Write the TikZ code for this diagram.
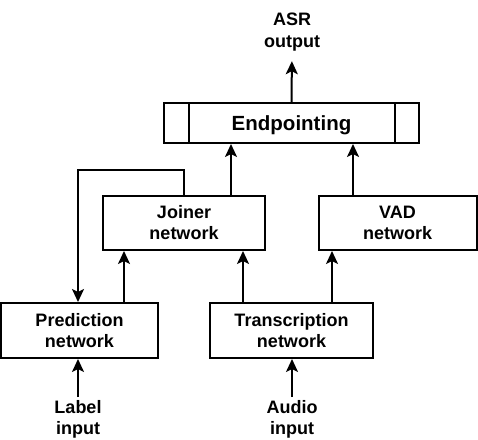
\documentclass[tikz,border=0pt]{standalone}
\usepackage{fontspec}
\setmainfont{Liberation Sans}
\usetikzlibrary{arrows.meta}
\begin{document}
\begin{tikzpicture}[x=1pt,y=-1pt,
  box/.style={draw, line width=2pt, inner sep=0pt, align=center,
    font=\bfseries\fontsize{18}{21}\selectfont},
  lbl/.style={inner sep=0pt, align=center, font=\bfseries\fontsize{18}{21.5}\selectfont},
  arr/.style={line width=2pt, -{Stealth[length=13pt,width=12pt,inset=3pt]}},
  ln/.style={line width=2pt}]
\useasboundingbox (0,0) rectangle (478,439);
% boxes
\node[box, minimum width=255pt, minimum height=40pt, text depth=0pt,
  font=\bfseries\fontsize{20.5}{24}\selectfont] (endp) at (291.5,123) {Endpointing};
\draw[ln] ([xshift=26pt]endp.north west) -- ([xshift=26pt]endp.south west);
\draw[ln] ([xshift=-25pt]endp.north east) -- ([xshift=-25pt]endp.south east);
\node[box, minimum width=162pt, minimum height=54pt] (joiner) at (184,223) {Joiner\\network};
\node[box, minimum width=158pt, minimum height=54pt] (vad) at (397.5,223) {VAD\\network};
\node[box, minimum width=157pt, minimum height=55pt] (pred) at (79.5,330.5) {Prediction\\network};
\node[box, minimum width=163pt, minimum height=55pt] (trans) at (291.5,330.5) {Transcription\\network};
% text nodes
\node[lbl, anchor=north] (asr) at (292,13) {ASR\\output};
\node[lbl, anchor=north] (label) at (78,400) {Label\\input};
\node[lbl, anchor=north] (audio) at (292,400) {Audio\\input};
% column coordinates
\coordinate (c124) at (124,0);
\coordinate (c231) at (231,0);
\coordinate (c353) at (353,0);
\coordinate (c243) at (243,0);
\coordinate (c332) at (332,0);
\coordinate (fb) at (78,170);
% connectors
\draw[arr, shorten >=10pt] (endp.north) -- (asr.south);
\draw[arr, shorten <=3pt] (label.north) -- (pred.south -| label.north);
\draw[arr, shorten <=3pt] (audio.north) -- (trans.south -| audio.north);
\draw[arr] (pred.north -| c124) -- (joiner.south -| c124);
\draw[arr] (trans.north -| c243) -- (joiner.south -| c243);
\draw[arr] (trans.north -| c332) -- (vad.south -| c332);
\draw[arr] (joiner.north -| c231) -- (endp.south -| c231);
\draw[arr] (vad.north -| c353) -- (endp.south -| c353);
\draw[arr] (joiner.north) -- (joiner.north |- fb) -- (fb) -- (fb |- pred.north);
\end{tikzpicture}
\end{document}
